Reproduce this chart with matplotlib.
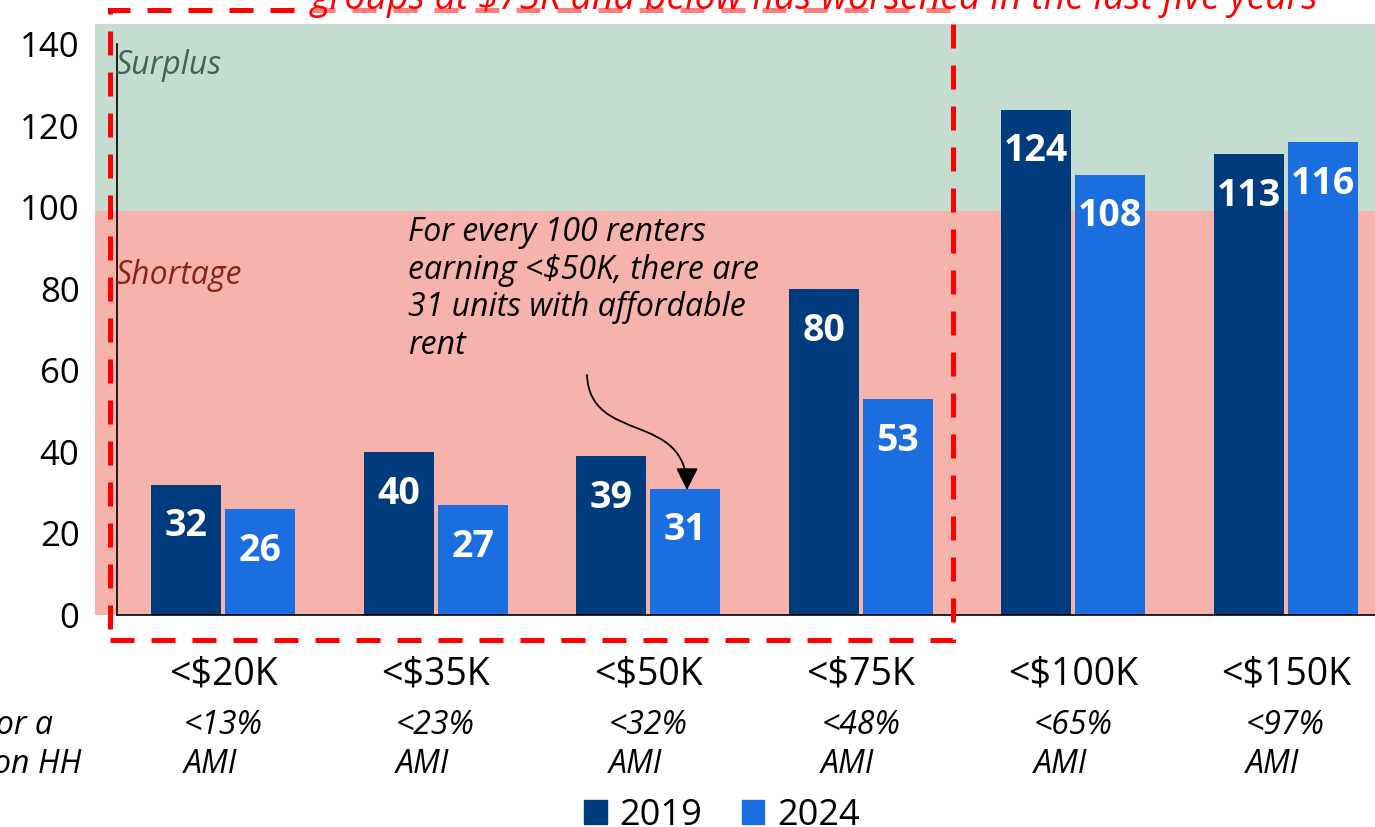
import matplotlib
matplotlib.use("Agg")
import matplotlib.pyplot as plt
import numpy as np
from matplotlib.patches import Rectangle, Patch, FancyArrowPatch
from matplotlib.path import Path

plt.rcParams['font.family'] = ['Open Sans', 'DejaVu Sans']

# ---- data ----
categories = ["<$20K", "<$35K", "<$50K", "<$75K", "<$100K", "<$150K"]
ami_labels = ["<13%\nAMI", "<23%\nAMI", "<32%\nAMI", "<48%\nAMI", "<65%\nAMI", "<97%\nAMI"]
series_names = ["2019", "2024"]
values_2019 = [32, 40, 39, 80, 124, 113]
values_2024 = [26, 27, 31, 53, 108, 116]
yticks = [0, 20, 40, 60, 80, 100, 120, 140]

c2019 = "#003C7D"
c2024 = "#1A6EE0"
green = "#C5DDD1"
pink = "#F6B3AB"

W, H = 1375, 827
fig = plt.figure(figsize=(W / 100, H / 100), dpi=100)

def fx(px):
    return px / W

def fy(py):
    return 1 - py / H

ax = fig.add_axes([fx(117), fy(615), 1275 / W, 591 / H])
ax.set_facecolor("none")
ax.set_xlim(-0.5, 5.5)
ax.set_ylim(0, 145)

# shading (Surplus / Shortage zones)
x0 = -0.5 - 22 / 212.5
ax.add_patch(Rectangle((x0, 0), 7, 99, facecolor=pink, edgecolor="none", zorder=0.2, clip_on=False))
ax.add_patch(Rectangle((x0, 99), 7, 46, facecolor=green, edgecolor="none", zorder=0.2, clip_on=False))

x = np.arange(len(categories))
off = 0.174
bw = 0.33
b1 = ax.bar(x - off, values_2019, bw, color=c2019, zorder=2, label=series_names[0])
b2 = ax.bar(x + off, values_2024, bw, color=c2024, zorder=2, label=series_names[1])

for bars in (b1, b2):
    for r in bars:
        h = r.get_height()
        ax.annotate(f"{h:.0f}", (r.get_x() + r.get_width() / 2, h), xytext=(0, -30),
                    textcoords="offset points", ha="center", va="center",
                    color="white", fontsize=27, fontweight="bold", zorder=3)

# axes styling
for s in ["top", "right"]:
    ax.spines[s].set_visible(False)
ax.spines["left"].set_bounds(0, 140)
for s in ["left", "bottom"]:
    ax.spines[s].set_linewidth(1.2)
    ax.spines[s].set_zorder(2.5)
ax.set_yticks(yticks)
ax.set_yticklabels([str(v) for v in yticks], fontsize=25)
ax.tick_params(axis="y", length=0, pad=27)
ax.set_xticks(x)
ax.set_xticklabels(categories, fontsize=27)
ax.tick_params(axis="x", length=0, pad=29)

# AMI labels under ticks
for i, lab in enumerate(ami_labels):
    ax.text(i, (615 - 745) / 4.076, lab, ha="center", va="center", multialignment="left",
            fontsize=23, style="italic", linespacing=1.25, clip_on=False)

fig.text(fx(53), fy(725), "Income for a", ha="right", va="center", fontsize=23, style="italic")
fig.text(fx(82), fy(764), "four-person HH", ha="right", va="center", fontsize=23, style="italic")

# zone labels
ax.text(-0.509, 134.8, "Surplus", ha="left", va="center", fontsize=23, style="italic",
        color="#3E6650", zorder=3)
ax.text(-0.509, 83.3, "Shortage", ha="left", va="center", fontsize=23, style="italic",
        color="#8B2318", zorder=3)

# annotation
ax.text(0.869, 80.0, "For every 100 renters\nearning <$50K, there are\n31 units with affordable\nrent",
        ha="left", va="center", fontsize=23, style="italic", linespacing=1.18, zorder=3)

def d(px, py):
    return ((px - 117) / 212.5 - 0.5, (615 - py) / 4.076)

verts = [d(587, 375), d(590, 445), d(687, 410), d(687, 490)]
path = Path(verts, [Path.MOVETO, Path.CURVE4, Path.CURVE4, Path.CURVE4])
arrow = FancyArrowPatch(path=path, arrowstyle="-|>,head_length=0.9,head_width=0.45",
                        mutation_scale=15, color="black", lw=1.3, zorder=4)
ax.add_patch(arrow)

# red dashed highlight box
rx0, ry0 = d(110, 640)
rx1, ry1 = d(953, 10)
ax.add_patch(Rectangle((rx0, ry0), rx1 - rx0, ry1 - ry0, fill=False, edgecolor="#FF0000",
                       lw=3.6, linestyle=(0, (4.8, 3.4)), zorder=5, clip_on=False))

# title (partially cropped)
fig.text(fx(815), fy(9), "groups at $75K and below has worsened in the last five years",
         ha="center", va="baseline", fontsize=27, style="italic", color="#FF0000",
         bbox=dict(boxstyle="square,pad=0.1", facecolor="white", alpha=0.5, edgecolor="none"))

# legend
handles = [Patch(color=c2019, label=series_names[0]), Patch(color=c2024, label=series_names[1])]
fig.legend(handles=handles, loc="lower center", bbox_to_anchor=(fx(722), -0.008), ncol=2,
           frameon=False, fontsize=26, handlelength=0.62, handleheight=0.62, handletextpad=0.35,
           columnspacing=1.1, borderpad=0, borderaxespad=0)

fig.savefig("out.png", dpi=100)
